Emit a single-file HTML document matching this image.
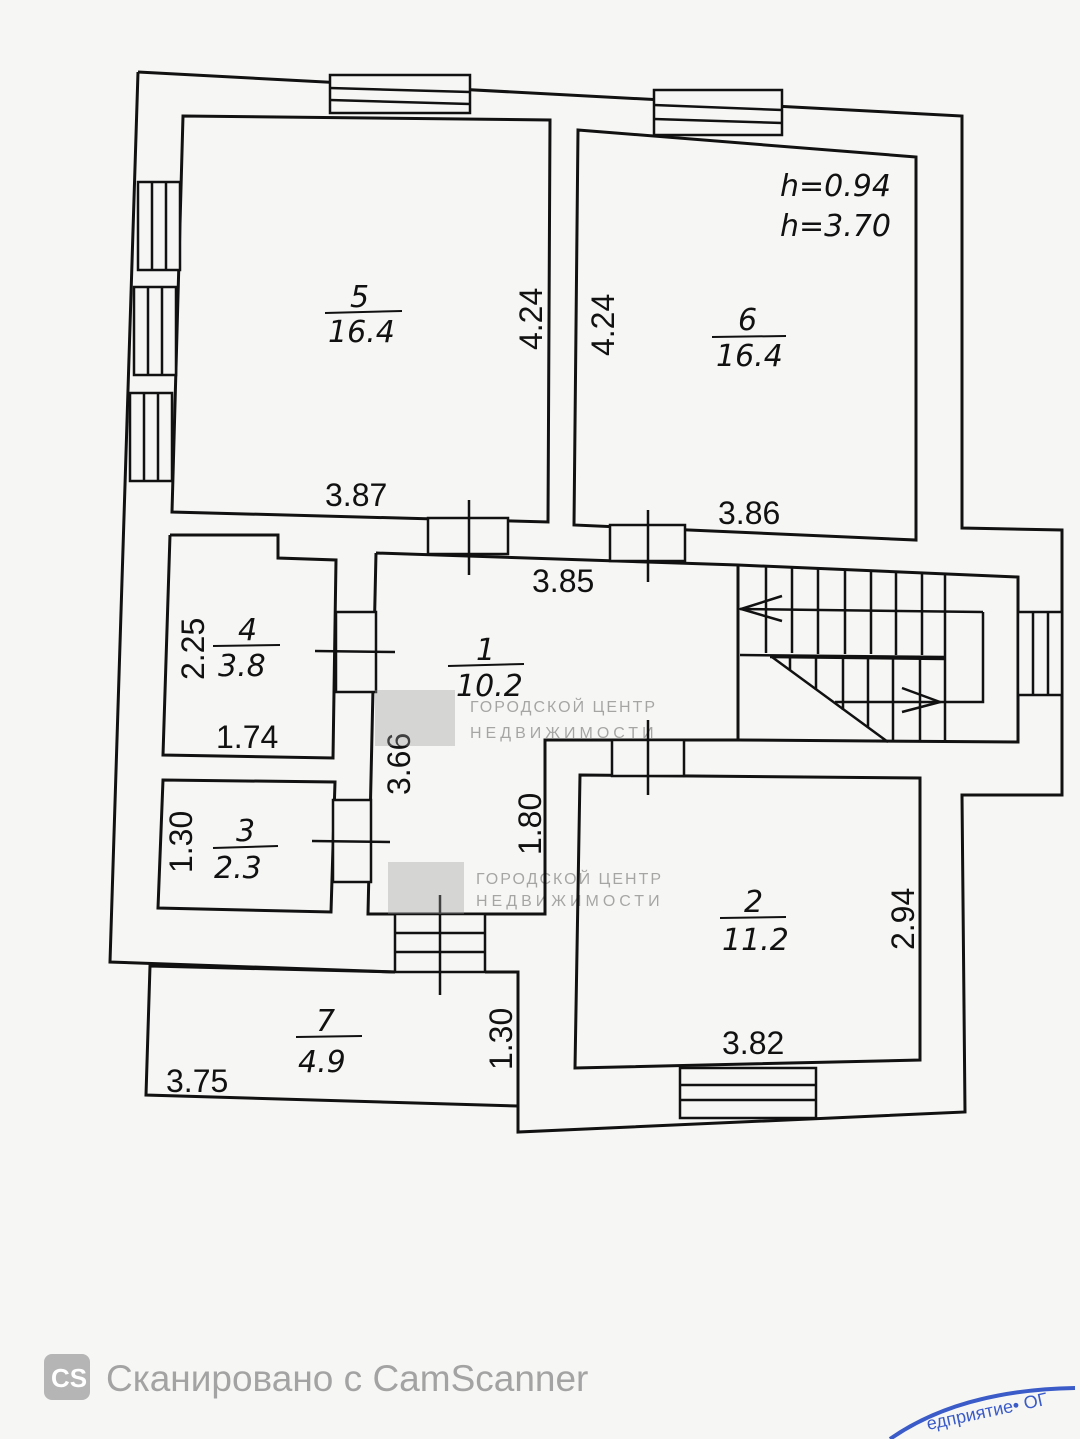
<!DOCTYPE html>
<html><head><meta charset="utf-8"><style>
body{margin:0;background:#f6f6f4;}
svg{display:block}
text{font-family:"Liberation Sans",sans-serif;fill:#111}
.it{font-family:"DejaVu Sans","Liberation Sans",sans-serif;font-style:italic;font-size:30px}
.d{font-size:32px}
</style></head><body>
<svg width="1080" height="1439" viewBox="0 0 1080 1439">
<rect width="1080" height="1439" fill="#f6f6f4"/>
<g fill="none" stroke="#111" stroke-width="3" stroke-linejoin="miter">
<polyline points="138,72 962,116 962,528 1062,530 1062,795 962,795 965,1112 518,1132 518,1106"/>
<polyline points="138,72 110,962 395,972"/>
<polyline points="485,972 518,972 518,1106"/>
<polyline points="395,972 150,966 146,1095 518,1106"/>
<polygon points="183,116 550,120 548,522 172,512"/>
<polygon points="578,130 916,157 916,540 574,525"/>
<polyline points="170,535 278,535 278,558 336,560 333,758 163,755 170,535"/>
<polygon points="163,780 335,782 331,912 158,908"/>
<polyline points="376,553 738,565 1018,577 1018,742 738,740 545,740 545,914 368,914 376,553"/>
<line x1="738" y1="565" x2="738" y2="740"/>
<polygon points="580,775 920,778 920,1060 575,1068"/>
<g stroke-width="2.5">
<line x1="740" y1="609" x2="983" y2="612"/>
<polyline points="983,612 983,702 835,702"/>
<line x1="740" y1="655" x2="945" y2="657"/>
<line x1="770" y1="657" x2="945" y2="659"/>
<line x1="945" y1="575" x2="945" y2="742"/>
<line x1="766" y1="567" x2="766" y2="653"/><line x1="792" y1="568" x2="792" y2="653"/><line x1="818" y1="569" x2="818" y2="654"/><line x1="845" y1="570" x2="845" y2="654"/><line x1="871" y1="571" x2="871" y2="654"/><line x1="896" y1="572" x2="896" y2="655"/><line x1="922" y1="573" x2="922" y2="655"/>
<line x1="790" y1="658" x2="790" y2="670"/><line x1="816" y1="658" x2="816" y2="690"/><line x1="843" y1="658" x2="843" y2="710"/><line x1="868" y1="658" x2="868" y2="728"/><line x1="893" y1="658" x2="893" y2="742"/><line x1="920" y1="658" x2="920" y2="742"/>
<line x1="772" y1="657" x2="888" y2="742"/>
<polyline points="782,596 741,609 782,621"/>
<polyline points="902,688 940,702 902,712"/>
</g>
<g stroke-width="2.5" fill="#f6f6f4">
<rect x="330" y="75" width="140" height="38"/><line x1="330" y1="88" x2="470" y2="92"/><line x1="330" y1="100" x2="470" y2="104"/>
<rect x="654" y="90" width="128" height="45"/><line x1="654" y1="105" x2="782" y2="110"/><line x1="654" y1="119" x2="782" y2="123"/>
<rect x="138" y="182" width="42" height="88"/><line x1="152" y1="182" x2="152" y2="270"/><line x1="166" y1="182" x2="166" y2="270"/>
<rect x="134" y="287" width="42" height="88"/><line x1="148" y1="287" x2="148" y2="375"/><line x1="162" y1="287" x2="162" y2="375"/>
<rect x="130" y="393" width="42" height="88"/><line x1="144" y1="393" x2="144" y2="481"/><line x1="158" y1="393" x2="158" y2="481"/>
<rect x="1018" y="612" width="44" height="83"/><line x1="1033" y1="612" x2="1033" y2="695"/><line x1="1048" y1="612" x2="1048" y2="695"/>
<rect x="680" y="1068" width="136" height="50"/><line x1="680" y1="1085" x2="816" y2="1085"/><line x1="680" y1="1100" x2="816" y2="1100"/>
<rect x="395" y="914" width="90" height="58"/><line x1="395" y1="933" x2="485" y2="933"/><line x1="395" y1="952" x2="485" y2="952"/>
<rect x="428" y="518" width="80" height="36"/><line x1="469" y1="500" x2="469" y2="575"/>
<rect x="610" y="525" width="75" height="36"/><line x1="648" y1="510" x2="648" y2="582"/>
<rect x="336" y="612" width="40" height="80"/><line x1="315" y1="651" x2="395" y2="652"/>
<rect x="333" y="800" width="38" height="82"/><line x1="312" y1="841" x2="390" y2="842"/>
<rect x="612" y="740" width="72" height="36"/><line x1="648" y1="720" x2="648" y2="795"/>
<line x1="440" y1="895" x2="440" y2="995"/>
</g>
<g stroke-width="2">
<line x1="325" y1="313" x2="402" y2="311"/><line x1="712" y1="337" x2="786" y2="336"/>
<line x1="213" y1="646" x2="280" y2="645"/><line x1="448" y1="666" x2="524" y2="664"/>
<line x1="213" y1="848" x2="278" y2="846"/><line x1="720" y1="918" x2="786" y2="917"/>
<line x1="296" y1="1037" x2="362" y2="1036"/>
</g>
</g>
<text class="it" x="350" y="307">5</text><text class="it" x="328" y="342">16.4</text>
<text class="it" x="738" y="330">6</text><text class="it" x="716" y="366">16.4</text>
<text class="it" x="780" y="196">h=0.94</text><text class="it" x="780" y="236">h=3.70</text>
<text class="it" x="238" y="640">4</text><text class="it" x="218" y="676">3.8</text>
<text class="it" x="476" y="660">1</text><text class="it" x="456" y="696">10.2</text>
<text class="it" x="236" y="841">3</text><text class="it" x="214" y="878">2.3</text>
<text class="it" x="744" y="912">2</text><text class="it" x="722" y="950">11.2</text>
<text class="it" x="316" y="1031">7</text><text class="it" x="298" y="1072">4.9</text>
<text class="d" x="325" y="506">3.87</text>
<text class="d" x="718" y="524">3.86</text>
<text class="d" x="532" y="592">3.85</text>
<text class="d" x="216" y="748">1.74</text>
<text class="d" x="722" y="1054">3.82</text>
<text class="d" x="166" y="1092">3.75</text>
<text class="d" transform="translate(542,350) rotate(-90)">4.24</text>
<text class="d" transform="translate(614,356) rotate(-90)">4.24</text>
<text class="d" transform="translate(204,680) rotate(-90)">2.25</text>
<text class="d" transform="translate(410,795) rotate(-90)">3.66</text>
<text class="d" transform="translate(541,855) rotate(-90)">1.80</text>
<text class="d" transform="translate(192,873) rotate(-90)">1.30</text>
<text class="d" transform="translate(914,950) rotate(-90)">2.94</text>
<text class="d" transform="translate(512,1070) rotate(-90)">1.30</text>
<g opacity="0.35">
<rect x="375" y="690" width="80" height="56" fill="#999"/><text x="470" y="712" font-size="16" fill="#999" letter-spacing="2">ГОРОДСКОЙ ЦЕНТР</text><text x="470" y="738" font-size="16" fill="#999" letter-spacing="4">НЕДВИЖИМОСТИ</text>
<rect x="388" y="862" width="76" height="52" fill="#999"/><text x="476" y="884" font-size="16" fill="#999" letter-spacing="2">ГОРОДСКОЙ ЦЕНТР</text><text x="476" y="906" font-size="16" fill="#999" letter-spacing="4">НЕДВИЖИМОСТИ</text>
</g>
<rect x="44" y="1354" width="46" height="46" rx="8" fill="#b5b5b5"/>
<text x="51" y="1387" font-size="26" font-weight="bold" fill="#fff" style="fill:#fff">CS</text>
<text x="106" y="1391" font-size="37" style="fill:#a3a3a3">Сканировано с CamScanner</text>
<path d="M890,1439 Q960,1390 1075,1388" fill="none" stroke="#3a5bc8" stroke-width="4"/>
<text x="928" y="1430" font-size="18" style="fill:#3a5bc8" transform="rotate(-12 928 1430)">едприятие• ОГ</text>
</svg>
</body></html>
